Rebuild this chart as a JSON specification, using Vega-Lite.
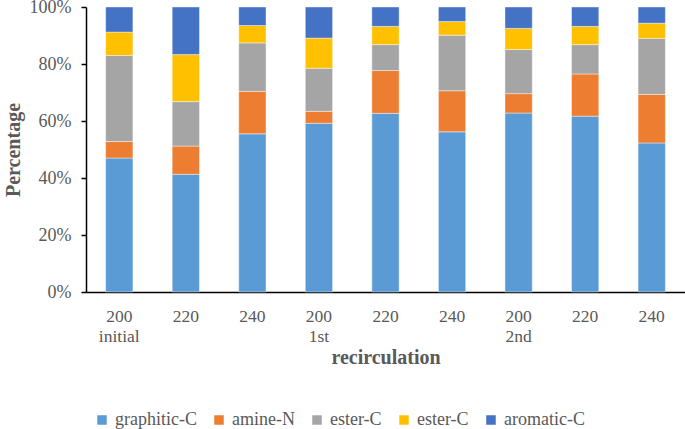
{
  "$schema": "https://vega.github.io/schema/vega-lite/v6.json",
  "autosize": {"type": "none"},
  "width": 599,
  "height": 285,
  "padding": {"left": 86, "top": 7, "right": 0, "bottom": 137},
  "background": "#ffffff",
  "config": {"view": {"stroke": null}, "font": "Liberation Serif"},
  "data": {"values": [
    {"recirculation": "initial 200", "group": "graphitic-C", "percent": 47.0},
    {"recirculation": "initial 200", "group": "amine-N", "percent": 5.8},
    {"recirculation": "initial 200", "group": "ester-C (a)", "percent": 30.2},
    {"recirculation": "initial 200", "group": "ester-C (b)", "percent": 8.2},
    {"recirculation": "initial 200", "group": "aromatic-C", "percent": 8.8},
    {"recirculation": "initial 220", "group": "graphitic-C", "percent": 41.3},
    {"recirculation": "initial 220", "group": "amine-N", "percent": 9.9},
    {"recirculation": "initial 220", "group": "ester-C (a)", "percent": 15.6},
    {"recirculation": "initial 220", "group": "ester-C (b)", "percent": 16.5},
    {"recirculation": "initial 220", "group": "aromatic-C", "percent": 16.7},
    {"recirculation": "initial 240", "group": "graphitic-C", "percent": 55.5},
    {"recirculation": "initial 240", "group": "amine-N", "percent": 14.9},
    {"recirculation": "initial 240", "group": "ester-C (a)", "percent": 17.0},
    {"recirculation": "initial 240", "group": "ester-C (b)", "percent": 6.1},
    {"recirculation": "initial 240", "group": "aromatic-C", "percent": 6.5},
    {"recirculation": "1st 200", "group": "graphitic-C", "percent": 59.2},
    {"recirculation": "1st 200", "group": "amine-N", "percent": 4.2},
    {"recirculation": "1st 200", "group": "ester-C (a)", "percent": 15.1},
    {"recirculation": "1st 200", "group": "ester-C (b)", "percent": 10.6},
    {"recirculation": "1st 200", "group": "aromatic-C", "percent": 10.9},
    {"recirculation": "1st 220", "group": "graphitic-C", "percent": 62.7},
    {"recirculation": "1st 220", "group": "amine-N", "percent": 15.0},
    {"recirculation": "1st 220", "group": "ester-C (a)", "percent": 9.1},
    {"recirculation": "1st 220", "group": "ester-C (b)", "percent": 6.4},
    {"recirculation": "1st 220", "group": "aromatic-C", "percent": 6.8},
    {"recirculation": "1st 240", "group": "graphitic-C", "percent": 56.2},
    {"recirculation": "1st 240", "group": "amine-N", "percent": 14.4},
    {"recirculation": "1st 240", "group": "ester-C (a)", "percent": 19.5},
    {"recirculation": "1st 240", "group": "ester-C (b)", "percent": 4.8},
    {"recirculation": "1st 240", "group": "aromatic-C", "percent": 5.1},
    {"recirculation": "2nd 200", "group": "graphitic-C", "percent": 62.8},
    {"recirculation": "2nd 200", "group": "amine-N", "percent": 6.8},
    {"recirculation": "2nd 200", "group": "ester-C (a)", "percent": 15.5},
    {"recirculation": "2nd 200", "group": "ester-C (b)", "percent": 7.4},
    {"recirculation": "2nd 200", "group": "aromatic-C", "percent": 7.5},
    {"recirculation": "2nd 220", "group": "graphitic-C", "percent": 61.7},
    {"recirculation": "2nd 220", "group": "amine-N", "percent": 14.8},
    {"recirculation": "2nd 220", "group": "ester-C (a)", "percent": 10.3},
    {"recirculation": "2nd 220", "group": "ester-C (b)", "percent": 6.4},
    {"recirculation": "2nd 220", "group": "aromatic-C", "percent": 6.8},
    {"recirculation": "2nd 240", "group": "graphitic-C", "percent": 52.3},
    {"recirculation": "2nd 240", "group": "amine-N", "percent": 17.0},
    {"recirculation": "2nd 240", "group": "ester-C (a)", "percent": 19.7},
    {"recirculation": "2nd 240", "group": "ester-C (b)", "percent": 5.3},
    {"recirculation": "2nd 240", "group": "aromatic-C", "percent": 5.7}
  ]},
  "transform": [
    {"calculate": "indexof(['graphitic-C', 'amine-N', 'ester-C (a)', 'ester-C (b)', 'aromatic-C'], datum.group)", "as": "stackOrder"}
  ],
  "mark": {"type": "bar", "stroke": "#ffffff", "strokeWidth": 0.6, "strokeOpacity": 0.7},
  "encoding": {
    "x": {
      "field": "recirculation",
      "type": "nominal",
      "sort": ["initial 200", "initial 220", "initial 240", "1st 200", "1st 220", "1st 240", "2nd 200", "2nd 220", "2nd 240"],
      "scale": {"paddingInner": 0.59, "paddingOuter": 0.295},
      "axis": {
        "title": "recirculation",
        "titleFont": "Liberation Serif",
        "titleFontSize": 20,
        "titleFontWeight": "bold",
        "titleColor": "#595959",
        "titlePadding": 3,
        "labelAngle": 0,
        "labelFont": "Liberation Serif",
        "labelFontSize": 17.5,
        "labelColor": "#595959",
        "labelPadding": 15,
        "labelLineHeight": 20,
        "ticks": false,
        "domainColor": "#000000",
        "domainWidth": 1.5,
        "labelExpr": "split(datum.label, ' ')[1] == '200' ? [split(datum.label, ' ')[1], split(datum.label, ' ')[0]] : split(datum.label, ' ')[1]"
      }
    },
    "y": {
      "field": "percent",
      "type": "quantitative",
      "stack": "normalize",
      "scale": {"domain": [0, 1]},
      "axis": {
        "title": "Percentage",
        "titleFont": "Liberation Serif",
        "titleFontSize": 20,
        "titleFontWeight": "bold",
        "titleColor": "#595959",
        "titlePadding": 6,
        "format": ".0%",
        "values": [0, 0.2, 0.4, 0.6, 0.8, 1],
        "grid": false,
        "labelFont": "Liberation Serif",
        "labelFontSize": 18,
        "labelColor": "#595959",
        "labelPadding": 10,
        "tickSize": 5,
        "tickColor": "#000000",
        "tickWidth": 1.5,
        "domainColor": "#000000",
        "domainWidth": 1.5
      }
    },
    "order": {"field": "stackOrder", "type": "quantitative", "sort": "ascending"},
    "color": {
      "field": "group",
      "type": "nominal",
      "sort": ["graphitic-C", "amine-N", "ester-C (a)", "ester-C (b)", "aromatic-C"],
      "scale": {
        "domain": ["graphitic-C", "amine-N", "ester-C (a)", "ester-C (b)", "aromatic-C"],
        "range": ["#5B9BD5", "#ED7D31", "#A5A5A5", "#FFC000", "#4472C4"]
      },
      "legend": {
        "title": null,
        "orient": "none",
        "legendX": 7,
        "legendY": 404,
        "direction": "horizontal",
        "symbolType": "square",
        "symbolSize": 90,
        "symbolStrokeWidth": 0,
        "labelFont": "Liberation Serif",
        "labelFontSize": 18,
        "labelColor": "#595959",
        "labelOffset": 4,
        "columnPadding": 13,
        "labelExpr": "replace(replace(datum.label, ' (a)', ''), ' (b)', '')"
      }
    }
  }
}
